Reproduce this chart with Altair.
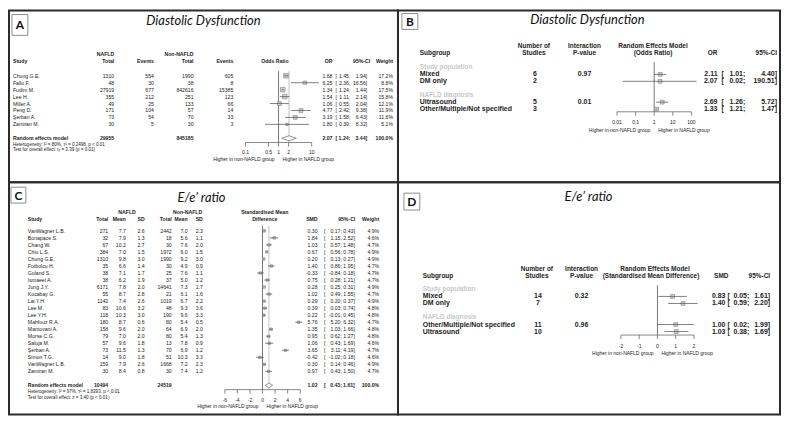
import altair as alt
import pandas as pd

FONT = "Liberation Sans"
TFONT = "Lato"
INK = "#222222"
SQ_FILL = "#d2d2d2"
SQ_EDGE = "#7f7f7f"
LINE = "#4a4a4a"
REF = "#555555"
RE_LINE = "#b3b3b3"
GROUP_GREY = "#c8c8c8"

# ---------------- Panel A: diastolic dysfunction, per study ----------------
a_study = ["Chung G.E.", "Fallo F.", "Fudim M.", "Lee H.", "Miller A.", "Peng D.", "Şerban A.", "Zamiran M."]
a_nafld_total = [1310, 48, 27919, 355, 49, 171, 73, 30]
a_nafld_events = [554, 30, 677, 212, 25, 104, 54, 5]
a_non_total = [1990, 38, 842616, 251, 133, 57, 70, 30]
a_non_events = [605, 8, 15385, 123, 66, 14, 33, 3]
a_or = [1.68, 6.25, 1.34, 1.54, 1.06, 4.77, 3.19, 1.80]
a_lo = [1.45, 2.36, 1.24, 1.11, 0.55, 2.42, 1.58, 0.39]
a_hi = [1.94, 16.56, 1.44, 2.14, 2.04, 9.38, 6.43, 8.32]
a_weight = [17.2, 8.8, 17.5, 15.8, 12.1, 11.9, 11.6, 5.1]
a_pooled_totals = [29955, 845185]
a_pooled = [2.07, 1.24, 3.44]
a_het = "Heterogeneity: I² = 80%, τ² = 0.2498, p < 0.01"
a_test = "Test for overall effect: t₇ = 3.39 (p = 0.01)"
a_ticks = [0.1, 0.5, 1, 2, 10]
a_tick_labels = ["0.1", "0.5", "1", "2", "10"]

# ---------------- Panel B: diastolic dysfunction, subgroups ----------------
b_groups = ["Study population", "NAFLD diagnosis"]
b_sub = ["Mixed", "DM only", "Ultrasound", "Other/Multiple/Not specified"]
b_k = [6, 2, 5, 3]
b_p = ["0.97", "", "0.01", ""]
b_or = [2.11, 2.07, 2.69, 1.33]
b_lo = [1.01, 0.02, 1.26, 1.21]
b_hi = [4.40, 190.51, 5.72, 1.47]
b_ticks = [0.01, 0.1, 1, 10, 100]
b_tick_labels = ["0.01", "0.1", "1", "10", "100"]

# ---------------- Panel C: E/e' ratio, per study ----------------
c_study = ["VanWagner L.B.", "Bonapace S.", "Chang W.", "Chiu L.S.", "Chung G.E.", "Fotbolcu H.",
           "Goland S.", "Ismaeel A.", "Jung J.Y.", "Kocabay G.", "Lai Y.H.", "Lee M.", "Lee Y.H.",
           "Mahfouz R.A.", "Mantovani A.", "Morse C.G.", "Saluja M.", "Şerban A.", "Simon T.G.",
           "VanWagner L.B.", "Zamiran M."]
c_n1 = [271, 32, 67, 384, 1310, 35, 38, 38, 6171, 55, 1142, 83, 118, 180, 158, 79, 57, 73, 14, 159, 30]
c_m1 = [7.7, 7.9, 10.2, 7.0, 9.8, 6.6, 7.1, 6.2, 7.8, 8.7, 7.4, 10.6, 10.3, 8.7, 9.6, 7.0, 9.6, 11.5, 9.0, 7.9, 8.4]
c_s1 = [2.6, 1.3, 2.7, 1.5, 3.0, 1.4, 1.7, 1.9, 2.0, 2.8, 2.6, 3.2, 3.0, 0.6, 2.0, 2.0, 1.8, 1.3, 1.8, 2.6, 0.8]
c_n2 = [2442, 18, 30, 1972, 1990, 30, 25, 37, 14641, 21, 1019, 48, 190, 80, 64, 80, 13, 70, 51, 1668, 30]
c_m2 = [7.0, 5.6, 7.6, 6.0, 9.2, 4.9, 7.6, 5.0, 7.3, 6.1, 6.7, 9.3, 9.6, 5.4, 6.9, 5.4, 7.8, 6.9, 10.3, 7.2, 7.4]
c_s2 = [2.3, 1.1, 2.0, 1.5, 3.0, 0.9, 1.1, 1.2, 1.7, 1.6, 2.2, 3.6, 3.3, 0.5, 2.0, 1.3, 0.9, 1.2, 3.3, 2.3, 1.2]
c_smd = [0.30, 1.84, 1.03, 0.67, 0.20, 1.40, -0.33, 0.75, 0.28, 1.02, 0.29, 0.39, 0.22, 5.76, 1.35, 0.95, 1.06, 3.65, -0.42, 0.30, 0.97]
c_lo = [0.17, 1.15, 0.57, 0.56, 0.13, 0.86, -0.84, 0.28, 0.25, 0.49, 0.20, 0.03, -0.01, 5.20, 1.03, 0.62, 0.43, 3.11, -1.02, 0.14, 0.43]
c_hi = [0.43, 2.52, 1.48, 0.78, 0.27, 1.95, 0.18, 1.21, 0.31, 1.55, 0.37, 0.74, 0.45, 6.32, 1.66, 1.27, 1.69, 4.19, 0.18, 0.46, 1.50]
c_weight = [4.9, 4.6, 4.7, 4.9, 4.9, 4.7, 4.7, 4.7, 4.9, 4.7, 4.9, 4.8, 4.8, 4.7, 4.8, 4.8, 4.6, 4.7, 4.6, 4.9, 4.7]
c_pooled_totals = [10494, 24519]
c_pooled = [1.02, 0.43, 1.61]
c_het = "Heterogeneity: I² = 97%, τ² = 1.8393, p < 0.01"
c_test = "Test for overall effect: z = 3.40 (p < 0.01)"
c_ticks = [-6, -4, -2, 0, 2, 4, 6]
c_tick_labels = ["-6", "-4", "-2", "0", "2", "4", "6"]

# ---------------- Panel D: E/e' ratio, subgroups ----------------
d_groups = ["Study population", "NAFLD diagnosis"]
d_sub = ["Mixed", "DM only", "Other/Multiple/Not specified", "Ultrasound"]
d_k = [14, 7, 11, 10]
d_p = ["0.32", "", "0.96", ""]
d_smd = [0.83, 1.40, 1.00, 1.03]
d_lo = [0.05, 0.59, 0.02, 0.38]
d_hi = [1.61, 2.20, 1.99, 1.69]
d_ticks = [-2, -1, 0, 1, 2]
d_tick_labels = ["-2", "-1", "0", "1", "2"]

LEFT_FAV = "Higher in non-NAFLD group"
RIGHT_FAV = "Higher in NAFLD group"

TS = 5.2   # table text size in panels A and C


# ---------------- helpers ----------------
def one(**kw):
    return pd.DataFrame({k: [v] for k, v in kw.items()})


def label(text, x, y, align="left", size=TS, bold=False, color=INK, italic=False, font=FONT):
    return alt.Chart(one(t=text)).mark_text(
        align=align, baseline="middle", font=font, fontSize=size,
        fontWeight="bold" if bold else "normal",
        fontStyle="italic" if italic else "normal", color=color,
    ).encode(x=alt.value(x), y=alt.value(y), text="t:N")


def column(df, field, x, ys, align="right", size=TS, bold=False, color=INK):
    return alt.Chart(df).mark_text(
        align=align, baseline="middle", font=FONT, fontSize=size,
        fontWeight="bold" if bold else "normal", color=color,
    ).encode(x=alt.value(x), y=alt.Y("row:Q", scale=ys, axis=None), text=f"{field}:N")


def letter_box(letter, x0, y0, x1, y1):
    box = alt.Chart(one(a=0)).mark_rect(fill="white", stroke="#8c8c8c", strokeWidth=1).encode(
        x=alt.value(x0), x2=alt.value(x1), y=alt.value(y0), y2=alt.value(y1))
    return [box, label(letter, (x0 + x1) / 2, (y0 + y1) / 2 + 0.5, "center", 12, True, "#111", font=TFONT)]


def title(text, x, y):
    return label(text, x, y, "center", 13, False, "#111", italic=True, font=TFONT)


def squares(df, xs, ys, size_scale=None, const=16):
    if size_scale is not None:
        ch = alt.Chart(df).mark_square(filled=True, color=SQ_FILL, stroke=SQ_EDGE, strokeWidth=0.6, opacity=1)
        return ch.encode(x=alt.X("est:Q", scale=xs, axis=None), y=alt.Y("row:Q", scale=ys, axis=None),
                         size=alt.Size("w:Q", scale=size_scale, legend=None))
    ch = alt.Chart(df).mark_square(filled=True, color=SQ_FILL, stroke=SQ_EDGE, strokeWidth=0.6, opacity=1, size=const)
    return ch.encode(x=alt.X("est:Q", scale=xs, axis=None), y=alt.Y("row:Q", scale=ys, axis=None))


def ci_lines(df, xs, ys):
    return alt.Chart(df).mark_rule(color=LINE, strokeWidth=0.7).encode(
        x=alt.X("lo:Q", scale=xs, axis=None), x2="hi:Q", y=alt.Y("row:Q", scale=ys, axis=None))


def vline(xs, v, y0, y1, color=REF, width=0.8):
    return alt.Chart(one(v=v)).mark_rule(color=color, strokeWidth=width).encode(
        x=alt.X("v:Q", scale=xs, axis=None), y=alt.value(y0), y2=alt.value(y1))


def diamond(xs, ys, est, lo, hi, row, half=0.36):
    d = pd.DataFrame({"x": [lo, est, hi], "y": [row, row - half, row], "y2": [row, row + half, row]})
    return alt.Chart(d).mark_area(orient="vertical", fill="white", stroke="#6a6a6a", strokeWidth=0.7,
                                  opacity=1).encode(
        x=alt.X("x:Q", scale=xs, axis=None), y=alt.Y("y:Q", scale=ys, axis=None), y2="y2:Q")


def axis(xs, ticks, labels, y_line, y_label, y_fav, null, size=5, tick_len=4):
    tdf = pd.DataFrame({"v": ticks, "lab": labels})
    line = alt.Chart(one(lo=ticks[0], hi=ticks[-1])).mark_rule(color=REF, strokeWidth=0.7).encode(
        x=alt.X("lo:Q", scale=xs, axis=None), x2="hi:Q", y=alt.value(y_line))
    tk = alt.Chart(tdf).mark_rule(color=REF, strokeWidth=0.7).encode(
        x=alt.X("v:Q", scale=xs, axis=None), y=alt.value(y_line), y2=alt.value(y_line + tick_len))
    tl = alt.Chart(tdf).mark_text(align="center", baseline="middle", font=FONT, fontSize=size, color=INK).encode(
        x=alt.X("v:Q", scale=xs, axis=None), y=alt.value(y_label), text="lab:N")
    fl = alt.Chart(one(v=null)).mark_text(align="right", baseline="middle", dx=-4, font=FONT, fontSize=size,
                                          color=INK).encode(
        x=alt.X("v:Q", scale=xs, axis=None), y=alt.value(y_fav), text=alt.value(LEFT_FAV))
    fr = alt.Chart(one(v=null)).mark_text(align="left", baseline="middle", dx=4, font=FONT, fontSize=size,
                                          color=INK).encode(
        x=alt.X("v:Q", scale=xs, axis=None), y=alt.value(y_fav), text=alt.value(RIGHT_FAV))
    return [line, tk, tl, fl, fr]


def f2(v):
    return f"{v:.2f}"


# ---------------- Panel A ----------------
nA = len(a_study)
ysA = alt.Scale(domain=[0, 1], range=[65.7, 72.7], nice=False, zero=False)
xsA = alt.Scale(type="log", domain=[0.1, 10], range=[238.3, 305], nice=False)
dfA = pd.DataFrame({
    "row": list(range(nA)), "study": a_study,
    "nt": [str(v) for v in a_nafld_total], "ne": [str(v) for v in a_nafld_events],
    "ct": [str(v) for v in a_non_total], "ce": [str(v) for v in a_non_events],
    "est": a_or, "lo": a_lo, "hi": a_hi, "w": a_weight,
    "est_t": [f2(v) for v in a_or], "br": ["["] * nA,
    "lo_t": [f2(v) + ";" for v in a_lo], "hi_t": [f2(v) + "]" for v in a_hi],
    "w_t": [f"{v:.1f}%" for v in a_weight],
})
poolA = one(row=nA + 1, study="Random effects model", nt=str(a_pooled_totals[0]), ct=str(a_pooled_totals[1]),
            est_t=f2(a_pooled[0]), br="[", lo_t=f2(a_pooled[1]) + ";", hi_t=f2(a_pooled[2]) + "]", w_t="100.0%")
layersA = []
layersA += letter_box("A", 3, 4, 19, 25)
layersA.append(title("Diastolic Dysfunction", 196, 11))
hA1, hA2 = 44, 51
layersA += [
    label("Study", 4, hA2, "left", TS, True),
    label("NAFLD", 106, hA1, "right", TS, True), label("Total", 106, hA2, "right", TS, True),
    label("Events", 146, hA2, "right", TS, True),
    label("Non-NAFLD", 186, hA1, "right", TS, True), label("Total", 186, hA2, "right", TS, True),
    label("Events", 226, hA2, "right", TS, True),
    label("Odds Ratio", 268, hA2, "center", TS, True),
    label("OR", 326, hA2, "right", TS, True),
    label("95%-CI", 364, hA2, "right", TS, True),
    label("Weight", 387, hA2, "right", TS, True),
]
layersA += [vline(xsA, 1, 61, 133, REF), vline(xsA, a_pooled[0], 61, 133, RE_LINE)]
layersA += [squares(dfA, xsA, ysA, alt.Scale(domain=[0, 17.5], range=[0, 22])), ci_lines(dfA, xsA, ysA)]
layersA.append(diamond(xsA, ysA, a_pooled[0], a_pooled[1], a_pooled[2], nA + 1))
for df, b in ((dfA, False), (poolA, True)):
    layersA += [
        column(df, "study", 4, ysA, "left", TS, b),
        column(df, "nt", 106, ysA, "right", TS, b),
        column(df, "ct", 186, ysA, "right", TS, b),
        column(df, "est_t", 326, ysA, "right", TS, b),
        column(df, "br", 329, ysA, "left", TS, b),
        column(df, "lo_t", 344, ysA, "right", TS, b),
        column(df, "hi_t", 361, ysA, "right", TS, b),
        column(df, "w_t", 387, ysA, "right", TS, b),
    ]
layersA += [column(dfA, "ne", 146, ysA), column(dfA, "ce", 226, ysA)]
layersA += [label(a_het, 4, 135, "left", 4.6), label(a_test, 4, 141, "left", 4.6)]
layersA += axis(xsA, a_ticks, a_tick_labels, 133, 143, 150, 1)
panelA = alt.layer(*layersA).properties(width=392, height=173)

# ---------------- Panel B ----------------
ysB = alt.Scale(domain=[0, 1], range=[57.3, 64.3], nice=False, zero=False)
xsB = alt.Scale(type="log", domain=[0.01, 100], range=[220.7, 295.7], nice=False)
b_rows = [1, 2, 5, 6]
b_group_rows = [0, 4]
dfB = pd.DataFrame({
    "row": b_rows, "sub": b_sub, "k": [str(v) for v in b_k], "p": b_p,
    "est": b_or, "lo": b_lo, "hi": b_hi,
    "est_t": [f2(v) for v in b_or], "br": ["["] * len(b_sub),
    "lo_t": [f2(v) + ";" for v in b_lo], "hi_t": [f2(v) + "]" for v in b_hi],
})
gB = pd.DataFrame({"row": b_group_rows, "g": b_groups})
layersB = []
layersB += letter_box("B", 4, 3, 20, 19)
layersB.append(title("Diastolic Dysfunction", 191, 10))
hB1, hB2 = 36, 43
layersB += [
    label("Subgroup", 22, hB2, "left", 6.5, True),
    label("Number of", 137, hB1, "center", 6.5, True), label("Studies", 137, hB2, "center", 6.5, True),
    label("Interaction", 188, hB1, "center", 6.5, True), label("P-value", 188, hB2, "center", 6.5, True),
    label("Random Effects Model", 257, hB1, "center", 6.5, True), label("(Odds Ratio)", 257, hB2, "center", 6.5, True),
    label("OR", 322, hB2, "right", 6.5, True),
    label("95%-CI", 382, hB2, "right", 6.5, True),
]
layersB.append(vline(xsB, 1, 52, 102, REF))
layersB += [squares(dfB, xsB, ysB, None, 15), ci_lines(dfB, xsB, ysB)]
layersB += [
    column(gB, "g", 22, ysB, "left", 6.5, True, GROUP_GREY),
    column(dfB, "sub", 22, ysB, "left", 7, True),
    column(dfB, "k", 138, ysB, "center", 7, True),
    column(dfB, "p", 188, ysB, "center", 7, True),
    column(dfB, "est_t", 322, ysB, "right", 7, True),
    column(dfB, "br", 326, ysB, "left", 7, True),
    column(dfB, "lo_t", 350, ysB, "right", 7, True),
    column(dfB, "hi_t", 382, ysB, "right", 7, True),
]
layersB += axis(xsB, b_ticks, b_tick_labels, 102, 112, 120, 1)
panelB = alt.layer(*layersB).properties(width=385, height=173)

# ---------------- Panel C ----------------
nC = len(c_study)
ysC = alt.Scale(domain=[0, 1], range=[49, 56.08], nice=False, zero=False)
xsC = alt.Scale(type="linear", domain=[-6, 6], range=[217.5, 293.5], nice=False, zero=False)
dfC = pd.DataFrame({
    "row": list(range(nC)), "study": c_study,
    "n1": [str(v) for v in c_n1], "m1": [f"{v:.1f}" for v in c_m1], "s1": [f"{v:.1f}" for v in c_s1],
    "n2": [str(v) for v in c_n2], "m2": [f"{v:.1f}" for v in c_m2], "s2": [f"{v:.1f}" for v in c_s2],
    "est": c_smd, "lo": c_lo, "hi": c_hi, "w": c_weight,
    "est_t": [f2(v) for v in c_smd], "br": ["["] * nC,
    "lo_t": [f2(v) + ";" for v in c_lo], "hi_t": [f2(v) + "]" for v in c_hi],
    "w_t": [f"{v:.1f}%" for v in c_weight],
})
poolC = one(row=nC + 1, study="Random effects model", n1=str(c_pooled_totals[0]), n2=str(c_pooled_totals[1]),
            est_t=f2(c_pooled[0]), br="[", lo_t=f2(c_pooled[1]) + ";", hi_t=f2(c_pooled[2]) + "]", w_t="100.0%")
layersC = []
layersC += letter_box("C", 2, 5, 17, 21)
layersC.append(title("E/e’ ratio", 194, 16))
hC1, hC2 = 30, 37
layersC += [
    label("Study", 19, hC2, "left", TS, True),
    label("NAFLD", 119, hC1, "center", TS, True),
    label("Total", 100, hC2, "right", TS, True), label("Mean", 117.7, hC2, "right", TS, True),
    label("SD", 136.7, hC2, "right", TS, True),
    label("Non-NAFLD", 180, hC1, "center", TS, True),
    label("Total", 164, hC2, "right", TS, True), label("Mean", 180, hC2, "right", TS, True),
    label("SD", 195.3, hC2, "right", TS, True),
    label("Standardised Mean", 257.7, hC1, "center", TS, True),
    label("Difference", 257.7, hC2, "center", TS, True),
    label("SMD", 311, hC2, "right", TS, True),
    label("95%-CI", 349, hC2, "right", TS, True),
    label("Weight", 373, hC2, "right", TS, True),
]
layersC += [vline(xsC, 0, 44, 209, REF), vline(xsC, c_pooled[0], 44, 209, RE_LINE)]
layersC += [squares(dfC, xsC, ysC, alt.Scale(domain=[0, 4.9], range=[0, 14])), ci_lines(dfC, xsC, ysC)]
layersC.append(diamond(xsC, ysC, c_pooled[0], c_pooled[1], c_pooled[2], nC + 1))
for df, b in ((dfC, False), (poolC, True)):
    layersC += [
        column(df, "study", 19, ysC, "left", TS, b),
        column(df, "n1", 100, ysC, "right", TS, b),
        column(df, "n2", 164, ysC, "right", TS, b),
        column(df, "est_t", 311, ysC, "right", TS, b),
        column(df, "br", 317.5, ysC, "left", TS, b),
        column(df, "lo_t", 335.5, ysC, "right", TS, b),
        column(df, "hi_t", 348.5, ysC, "right", TS, b),
        column(df, "w_t", 373, ysC, "right", TS, b),
    ]
layersC += [
    column(dfC, "m1", 117.7, ysC), column(dfC, "s1", 136.7, ysC),
    column(dfC, "m2", 180, ysC), column(dfC, "s2", 195.3, ysC),
]
layersC += [label(c_het, 19, 211, "left", 4.6), label(c_test, 19, 217, "left", 4.6)]
layersC += axis(xsC, c_ticks, c_tick_labels, 209, 219, 226, 0)
panelC = alt.layer(*layersC).properties(width=392, height=234)

# ---------------- Panel D ----------------
ysD = alt.Scale(domain=[0, 1], range=[108, 115.08], nice=False, zero=False)
xsD = alt.Scale(type="linear", domain=[-2, 2], range=[224.7, 298.3], nice=False, zero=False)
d_rows = [1, 2, 5, 6]
d_group_rows = [0, 4]
dfD = pd.DataFrame({
    "row": d_rows, "sub": d_sub, "k": [str(v) for v in d_k], "p": d_p,
    "est": d_smd, "lo": d_lo, "hi": d_hi,
    "est_t": [f2(v) for v in d_smd], "br": ["["] * len(d_sub),
    "lo_t": [f2(v) + ";" for v in d_lo], "hi_t": [f2(v) + "]" for v in d_hi],
})
gD = pd.DataFrame({"row": d_group_rows, "g": d_groups})
layersD = []
layersD += letter_box("D", 6, 11, 22, 28)
layersD.append(title("E/e’ ratio", 192, 15))
hD1, hD2 = 87.3, 94.7
layersD += [
    label("Subgroup", 25, hD2, "left", 6.5, True),
    label("Number of", 140, hD1, "center", 6.5, True), label("Studies", 140, hD2, "center", 6.5, True),
    label("Interaction", 185, hD1, "center", 6.5, True), label("P-value", 185, hD2, "center", 6.5, True),
    label("Random Effects Model", 259, hD1, "center", 6.5, True),
    label("(Standardised Mean Difference)", 255, hD2, "center", 6.5, True),
    label("SMD", 333, hD2, "right", 6.5, True),
    label("95%-CI", 375, hD2, "right", 6.5, True),
]
layersD.append(vline(xsD, 0, 104, 154, REF))
layersD += [squares(dfD, xsD, ysD, None, 15), ci_lines(dfD, xsD, ysD)]
layersD += [
    column(gD, "g", 25, ysD, "left", 6.5, True, GROUP_GREY),
    column(dfD, "sub", 25, ysD, "left", 7, True),
    column(dfD, "k", 141, ysD, "center", 7, True),
    column(dfD, "p", 185, ysD, "center", 7, True),
    column(dfD, "est_t", 330, ysD, "right", 7, True),
    column(dfD, "br", 332, ysD, "left", 7, True),
    column(dfD, "lo_t", 354, ysD, "right", 7, True),
    column(dfD, "hi_t", 375, ysD, "right", 7, True),
]
layersD += axis(xsD, d_ticks, d_tick_labels, 154, 165, 172, 0)
panelD = alt.layer(*layersD).properties(width=385, height=234)

chart = (
    alt.concat(panelA, panelB, panelC, panelD, columns=2, spacing=0, bounds="flush")
    .properties(padding=0, background="white")
    .configure_view(stroke="#2b2b2b", strokeWidth=2)
)

chart.save("out.html", embed_options={"renderer": "svg", "actions": False})
